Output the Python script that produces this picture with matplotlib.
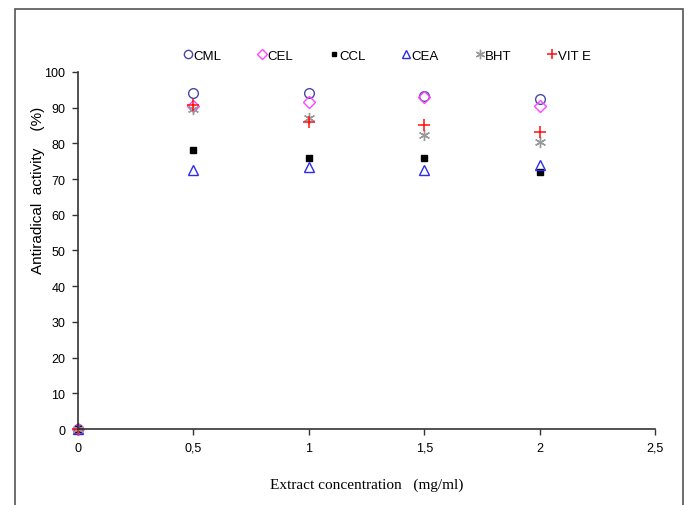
import matplotlib.pyplot as plt
from matplotlib.patches import Rectangle

conc = [0, 0.5, 1, 1.5, 2]
cml = [0, 94, 94, 93.3, 92.3]
cel = [0, 90.5, 91.5, 93, 90.5]
ccl = [0, 78, 76, 76, 72]
cea = [0, 72.5, 73.5, 72.5, 73.8]
bht = [0, 89.5, 87, 82.3, 80.5]
vite = [0, 90.7, 86, 85.2, 83.2]

xticks = [0, 0.5, 1, 1.5, 2, 2.5]
xticklabels = ["0", "0,5", "1", "1,5", "2", "2,5"]
yticks = list(range(0, 101, 10))

sans = "Liberation Sans"

fig = plt.figure(figsize=(6.88, 5.06), dpi=100)
ax = fig.add_axes([0.1134, 0.150, 0.952 - 0.1134, 0.856 - 0.150])

# outer frame
fig.patches.append(Rectangle((0.022, -0.05), 0.971, 1.03, transform=fig.transFigure,
                             fill=False, edgecolor="#555555", linewidth=1.2))

ax.plot(conc, cml, "o", ms=7, mfc="none", mec="#4848a8", mew=1, label="CML", clip_on=False)
ax.plot(conc, cel, "D", ms=6, mfc="none", mec="#ff44ff", mew=1, label="CEL", clip_on=False)
ax.plot(conc, ccl, "s", ms=4, color="black", label="CCL", clip_on=False)
ax.plot(conc, cea, "^", ms=7, mfc="none", mec="#2c2cf0", mew=1, label="CEA", clip_on=False)
ax.plot(conc, bht, marker=(6, 2, 0), ls="none", ms=8, color="#999999", mew=1, label="BHT", clip_on=False)
ax.plot(conc, vite, "+", ms=9, color="#ff1010", mew=1.1, label="VIT E", clip_on=False)

ax.set_xlim(0, 2.5)
ax.set_ylim(0, 100)
ax.set_xticks(xticks)
ax.set_xticklabels(xticklabels)
ax.set_yticks(yticks)
for s in ["top", "right"]:
    ax.spines[s].set_visible(False)
for s in ["left", "bottom"]:
    ax.spines[s].set_color("#333333")
    ax.spines[s].set_linewidth(1.2)
ax.tick_params(direction="out", length=4, width=1, color="#333333", labelsize=9, pad=5)
for lab in ax.get_xticklabels() + ax.get_yticklabels():
    lab.set_family(sans)

ax.set_xlabel("Extract concentration   (mg/ml)", family="Liberation Serif", fontsize=11, labelpad=17)
fig.text(38 / 688, 1 - 190 / 506, "Antiradical  activity    (%)",
         rotation=90, ha="center", va="center", family=sans, fontsize=11)

leg = ax.legend(loc="lower left", bbox_to_anchor=(0.158, 0.995), ncol=6, frameon=False,
                handletextpad=-0.1, columnspacing=2.6, handlelength=1.0, markerscale=0.85,
                prop={"family": sans, "size": 9.5})

fig.savefig("out.png", dpi=100)
